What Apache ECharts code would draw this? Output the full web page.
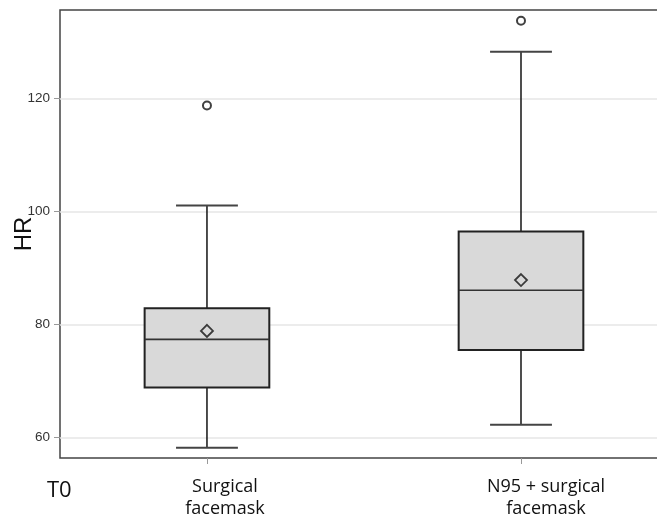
<!DOCTYPE html>
<html>
<head>
<meta charset="utf-8">
<script src="https://cdn.jsdelivr.net/npm/echarts@6/dist/echarts.min.js"></script>
<style>
  html, body { margin: 0; padding: 0; background: #fff; }
  #chart { width: 657px; height: 526px; }
</style>
</head>
<body>
<div id="chart"></div>
<script>
// HR at T0, two mask groups
var categories = ['Surgical\nfacemask', 'N95 + surgical\nfacemask'];
var positions = [1, 2];
var whiskerLow = [58.2, 62.3];
var q1 = [68.9, 75.5];
var median = [77.4, 86.1];
var q3 = [82.9, 96.5];
var whiskerHigh = [101.1, 128.3];
var means = [78.9, 87.9];
var outliers = [[1, 118.8], [2, 133.8]];
var yTicks = [60, 80, 100, 120];

var boxData = positions.map(function (p, i) {
    return [p, whiskerLow[i], q1[i], median[i], q3[i], whiskerHigh[i]];
});
var meanData = positions.map(function (p, i) { return [p, means[i]]; });

var chart = echarts.init(document.getElementById('chart'));

function renderBox(params, api) {
    var x = api.value(0);
    var lo = api.coord([x, api.value(1)]);
    var b1 = api.coord([x, api.value(2)]);
    var md = api.coord([x, api.value(3)]);
    var b3 = api.coord([x, api.value(4)]);
    var hi = api.coord([x, api.value(5)]);
    var halfBox = api.size([0.397, 0])[0] / 2;
    var halfCap = api.size([0.197, 0])[0] / 2;
    var cx = lo[0];
    return {
        type: 'group',
        children: [
            { type: 'line', shape: { x1: cx, y1: b1[1], x2: cx, y2: lo[1] }, style: { stroke: '#222', lineWidth: 1.6 } },
            { type: 'line', shape: { x1: cx, y1: b3[1], x2: cx, y2: hi[1] }, style: { stroke: '#222', lineWidth: 1.6 } },
            { type: 'line', shape: { x1: cx - halfCap, y1: lo[1], x2: cx + halfCap, y2: lo[1] }, style: { stroke: '#444', lineWidth: 2 } },
            { type: 'line', shape: { x1: cx - halfCap, y1: hi[1], x2: cx + halfCap, y2: hi[1] }, style: { stroke: '#444', lineWidth: 2 } },
            { type: 'rect', shape: { x: cx - halfBox, y: b3[1], width: halfBox * 2, height: b1[1] - b3[1] },
              style: { fill: '#d9d9d9', stroke: '#222', lineWidth: 2 } },
            { type: 'line', shape: { x1: cx - halfBox, y1: md[1], x2: cx + halfBox, y2: md[1] }, style: { stroke: '#333', lineWidth: 1.6 } }
        ]
    };
}

var option = {
    animation: false,
    title: {
        text: 'T0',
        left: 47,
        top: 480,
        padding: 0,
        textStyle: { fontFamily: 'Open Sans', fontSize: 22, fontWeight: 'normal', color: '#111' }
    },
    grid: {
        left: 60, right: -5, top: 10, bottom: 68,
        outerBoundsMode: 'none',
        containLabel: false,
        show: true, borderColor: '#444', borderWidth: 1.5, backgroundColor: 'transparent'
    },
    xAxis: {
        type: 'value',
        min: 0.532,
        max: 2.449,
        splitLine: { show: false },
        axisLine: { show: false },
        axisTick: { show: true, length: 6, customValues: positions, lineStyle: { color: '#999', width: 1 } },
        axisLabel: {
            customValues: positions,
            margin: 18,
            formatter: function (v) {
                var i = positions.indexOf(v);
                var key = i === 0 ? 'a' : 'b';
                return categories[i].split('\n').map(function (s) {
                    return '{' + key + '|' + s + '}';
                }).join('\n');
            },
            rich: {
                a: { fontFamily: 'Open Sans', fontSize: 18, lineHeight: 22, color: '#111', padding: [0, 0, 0, 36] },
                b: { fontFamily: 'Open Sans', fontSize: 18, lineHeight: 22, color: '#111', padding: [0, 0, 0, 50] }
            }
        }
    },
    yAxis: {
        type: 'value',
        min: 56.4,
        max: 135.7,
        name: 'HR',
        nameLocation: 'middle',
        nameGap: 24,
        nameMoveOverlap: false,
        nameTextStyle: { fontFamily: 'Liberation Sans', fontSize: 24, color: '#111' },
        axisLine: { show: false },
        axisTick: { show: true, length: 6, customValues: yTicks, lineStyle: { color: '#999', width: 1 } },
        axisLabel: {
            customValues: yTicks,
            margin: 10,
            fontFamily: 'Liberation Sans',
            fontSize: 13.5,
            color: '#333'
        },
        splitLine: { show: true, lineStyle: { color: '#e6e6e6', width: 1.5 } }
    },
    series: [
        {
            type: 'custom',
            renderItem: renderBox,
            data: boxData,
            encode: { x: 0, y: [1, 2, 3, 4, 5] },
            z: 2
        },
        {
            type: 'scatter',
            data: meanData,
            symbol: 'diamond',
            symbolSize: 12,
            itemStyle: { color: 'transparent', borderColor: '#111', borderWidth: 1.8 },
            z: 3
        },
        {
            type: 'scatter',
            data: outliers,
            symbol: 'circle',
            symbolSize: 8,
            itemStyle: { color: '#fff', borderColor: '#111', borderWidth: 2 },
            z: 3
        }
    ]
};

chart.setOption(option);
</script>
</body>
</html>
